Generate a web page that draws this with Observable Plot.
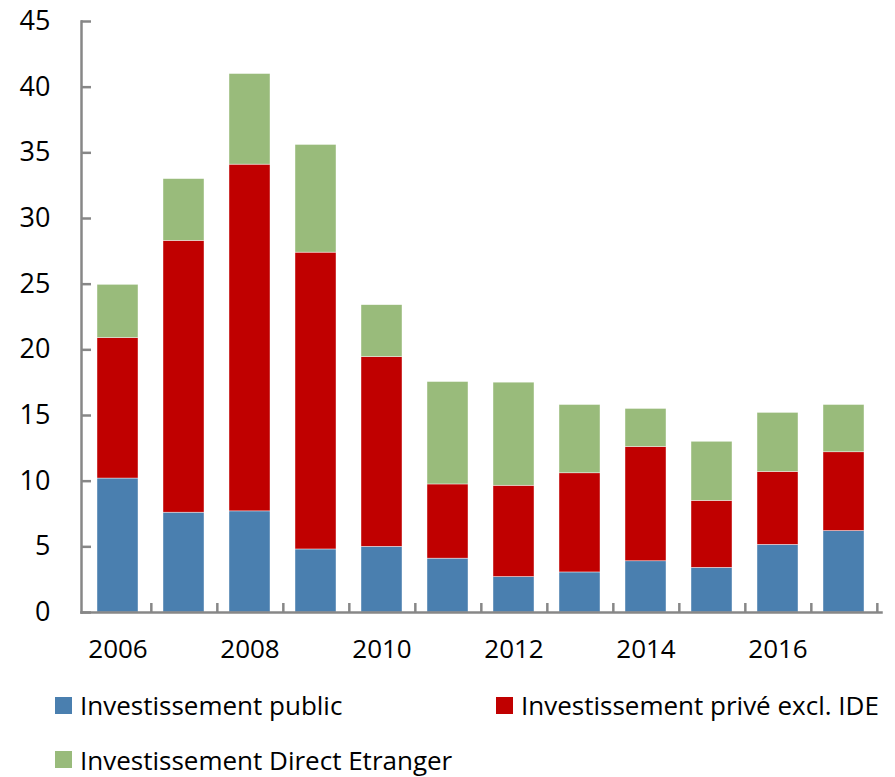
<!DOCTYPE html>
<html><head><meta charset="utf-8">
<script src="https://cdn.jsdelivr.net/npm/d3@7"></script>
<script src="https://cdn.jsdelivr.net/npm/@observablehq/plot@0.6"></script>
<style>
body{margin:0;background:#fff;font-family:"Open Sans",sans-serif;overflow:hidden;}
#wrap{position:relative;width:895px;height:777px;}
#legend{position:absolute;left:0;top:680px;width:895px;height:97px;}
.item{position:absolute;display:flex;align-items:center;height:30px;line-height:30px;font-size:26px;color:#000;white-space:nowrap;}
.sw{width:17px;height:17px;margin-right:8px;flex:none;}
</style></head><body>
<div id="wrap"><div id="chart"></div><div id="legend"></div></div>
<script>
const years = ["2006","2007","2008","2009","2010","2011","2012","2013","2014","2015","2016","2017"];
const seriesNames = ["Investissement public","Investissement privé excl. IDE","Investissement Direct Etranger"];
const publicInv = [10.2, 7.6, 7.7, 4.8, 5.0, 4.1, 2.7, 3.05, 3.9, 3.4, 5.15, 6.2];
const privateInv = [10.7, 20.7, 26.4, 22.6, 14.45, 5.65, 6.95, 7.55, 8.7, 5.1, 5.55, 6.0];
const fdi = [4.05, 4.7, 6.9, 8.2, 3.95, 7.8, 7.85, 5.2, 2.9, 4.5, 4.5, 3.6];
const yTicks = [0, 5, 10, 15, 20, 25, 30, 35, 40, 45];
const xLabels = ["2006","2008","2010","2012","2014","2016"];
const colors = ["#4A7FAF", "#C00000", "#99BB7B"];

const seriesValues = [publicInv, privateInv, fdi];
const data = years.flatMap((yr, i) => seriesNames.map((s, k) => ({year: yr, series: s, value: seriesValues[k][i]})));

const W = 895, H = 680, ML = 81, MR = 14, MT = 21, MB = 68;
const step = (W - ML - MR) / years.length;
const axisGray = "#878787";

const chart = Plot.plot({
  width: W, height: H,
  marginLeft: ML, marginRight: MR, marginTop: MT, marginBottom: MB,
  style: {fontFamily: '"Open Sans", sans-serif', background: "white", color: "#000"},
  x: {type: "band", domain: years, paddingInner: 0.375, paddingOuter: 0.1875, axis: null, label: null},
  y: {domain: [0, 45], axis: null, label: null},
  color: {domain: seriesNames, range: colors},
  marks: [
    Plot.barY(data, {x: "year", y: "value", fill: "series", order: seriesNames, stroke: "white", strokeWidth: 0.6, strokeOpacity: 0.7}),
    Plot.frame({anchor: "left", stroke: axisGray, strokeWidth: 2.5}),
    Plot.frame({anchor: "bottom", stroke: axisGray, strokeWidth: 2.5}),
    Plot.axisY({ticks: yTicks, tickSize: -10, text: null, label: null, stroke: axisGray, strokeWidth: 2.5}),
    Plot.axisY({ticks: yTicks, tickSize: 0, tickPadding: 31, fontSize: 27, fill: "#000", label: null}),
    Plot.axisX({ticks: years, tickSize: -9, text: null, label: null, dx: step / 2, stroke: axisGray, strokeWidth: 2.5}),
    Plot.axisX({ticks: xLabels, tickSize: 0, tickPadding: 27, fontSize: 26, fill: "#000", label: null})
  ]
});
document.getElementById("chart").appendChild(chart);

const legendPos = [{left: 55, top: 10}, {left: 496, top: 10}, {left: 55, top: 64.5}];
const legend = document.getElementById("legend");
seriesNames.forEach((s, k) => {
  const it = document.createElement("div");
  it.className = "item";
  it.style.left = legendPos[k].left + "px";
  it.style.top = legendPos[k].top + "px";
  const sw = document.createElement("span");
  sw.className = "sw";
  sw.style.background = colors[k];
  const tx = document.createElement("span");
  tx.textContent = s;
  it.appendChild(sw); it.appendChild(tx);
  legend.appendChild(it);
});
</script>
</body></html>
